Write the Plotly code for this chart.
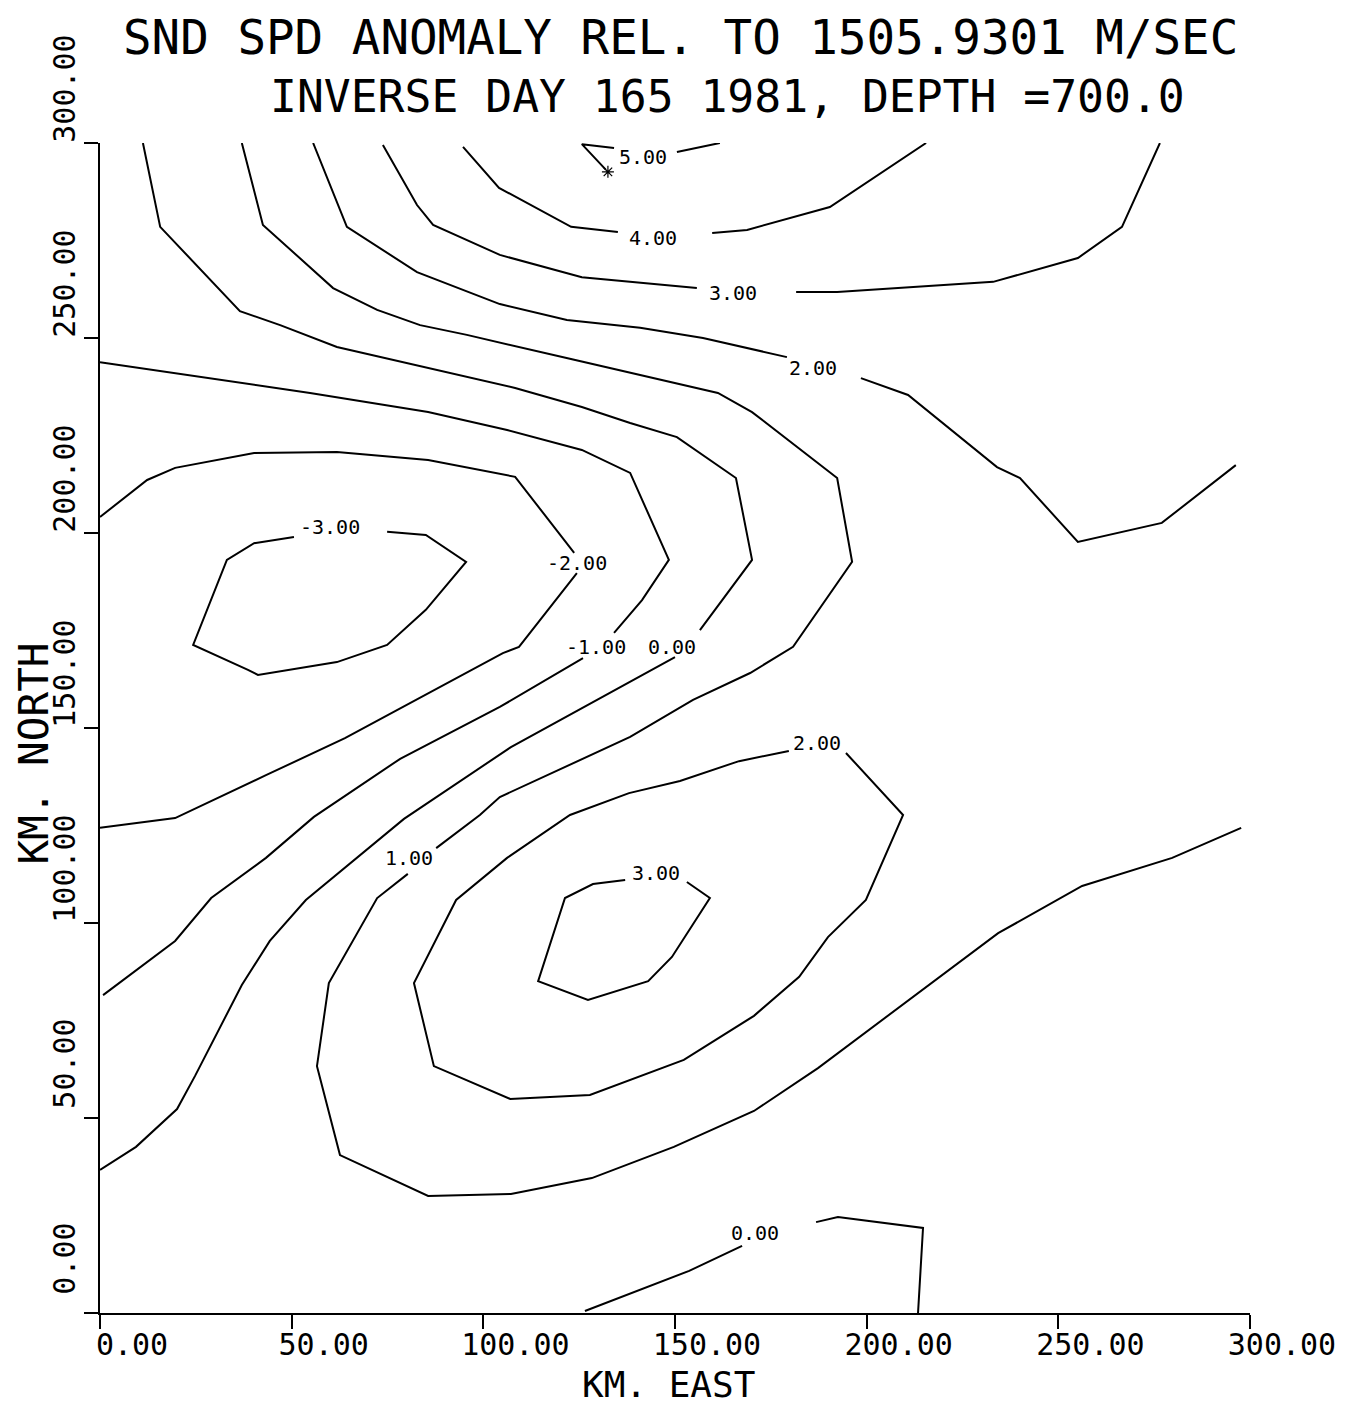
import plotly.graph_objects as go

# ---- axis ticks ----
tick_vals = [0, 50, 100, 150, 200, 250, 300]
tick_text = ["0.00", "50.00", "100.00", "150.00", "200.00", "250.00", "300.00"]

# ---- contour polylines (km east, km north); None = label gap ----
zero_x = [11.2, 15.7, 36.5, 47.0, 61.8, 85.6, 108.3, 125.7, 138.3, 150.5, 165.9, 170.1, 156.5, None,
          150.0, 137.5, 107.2, 79.3, 53.7, 44.3, 37.0, 24.8, 20.1, 9.4, 0.0]
zero_y = [300.0, 278.5, 256.9, 253.3, 247.7, 242.3, 237.2, 232.3, 228.2, 224.6, 214.1, 193.1, 175.1, None,
          168.2, 161.5, 145.1, 126.7, 105.9, 95.4, 84.1, 60.8, 52.3, 42.6, 36.7]

one_x = [37.0, 42.5, 60.8, 72.3, 83.5, 95.7, 123.7, 137.5, 152.6, 161.2, 170.1, 192.3, 196.2, 180.8, 169.6,
         154.7, 138.3, 104.3, 99.1, 87.7, None, 80.3, 72.3, 59.7, 56.6, 62.6, 85.6, 107.2, 128.3, 149.7,
         170.6, 187.3, 214.7, 234.3, 256.2, 279.7, 297.7]
one_y = [300.0, 279.0, 262.8, 257.2, 253.3, 250.8, 244.4, 241.3, 237.9, 235.9, 231.0, 214.1, 192.6, 170.8, 164.1,
         157.2, 147.7, 132.3, 127.7, 119.2, None, 112.6, 106.4, 84.6, 63.3, 40.5, 30.0, 30.5, 34.6, 42.6,
         51.8, 62.8, 83.1, 97.4, 109.5, 116.7, 124.4]

two_upper_x = [55.6, 64.4, 82.7, 104.3, 121.8, 140.9, 157.3, 179.2, None, 198.5, 210.8, 234.0, 240.0, 255.1, 277.0, 296.3]
two_upper_y = [300.0, 278.5, 266.9, 258.7, 254.6, 252.6, 250.0, 245.1, None, 239.7, 235.4, 216.9, 214.1, 197.7, 202.6, 217.4]

three_upper_x = [73.8, 82.7, 86.9, 104.3, 125.7, 138.3, 155.7, None, 181.6, 192.3, 233.0, 255.1, 266.6, 276.5]
three_upper_y = [299.5, 284.1, 279.0, 271.3, 265.6, 264.4, 262.8, None, 261.8, 261.8, 264.4, 270.5, 278.5, 300.0]

four_x = [94.7, 104.1, 122.9, 135.1, None, 159.7, 168.8, 190.4, 215.5]
four_y = [299.0, 288.5, 278.5, 277.2, None, 276.9, 277.7, 283.6, 300.0]

five_x = [134.1, 125.7, 132.0, None, 150.5, 161.7]
five_y = [298.7, 299.7, 293.1, None, 297.7, 300.0]

neg1_x = [0.0, 54.8, 85.6, 106.2, 125.7, 138.3, 148.4, 141.4, 134.1, None,
          126.0, 104.3, 78.3, 55.8, 43.3, 29.0, 19.6, 0.8]
neg1_y = [243.8, 235.9, 231.0, 226.4, 221.3, 215.4, 193.1, 182.8, 174.4, None,
          167.9, 155.4, 142.1, 127.2, 116.7, 106.4, 95.4, 81.5]

neg2_x = [0.0, 12.3, 19.6, 40.2, 61.8, 85.6, 108.3, 123.7, None, 124.4, 109.3, 105.1, 82.4, 63.9, 43.3, 19.6, 0.0]
neg2_y = [204.1, 213.6, 216.7, 220.5, 220.8, 218.7, 214.4, 194.9, None, 189.7, 170.8, 169.2, 157.2, 147.4, 137.9, 126.9, 124.4]

neg3_x = [50.6, 40.2, 33.1, 24.3, 38.6, 41.2, 61.8, 74.9, 85.0, 95.5, 85.0, 74.9]
neg3_y = [199.0, 197.4, 193.1, 171.3, 164.9, 163.6, 166.9, 171.3, 180.3, 192.6, 199.5, 200.3]

two_lower_x = [194.6, 209.5, 199.8, 189.9, 182.4, 170.6, 152.3, 127.8, 107.0, 87.1, 81.9, 92.9, 106.2,
               122.6, 138.0, 151.3, 166.7, 179.7]
two_lower_y = [143.6, 127.7, 105.9, 96.4, 86.2, 76.2, 64.9, 55.9, 54.9, 63.3, 84.6, 105.9, 116.7,
               127.7, 133.3, 136.4, 141.5, 144.1]

three_lower_x = [153.1, 159.1, 149.2, 143.0, 127.3, 114.3, 121.3, 128.6, 137.0]
three_lower_y = [110.5, 106.4, 91.3, 85.1, 80.3, 85.1, 106.4, 110.0, 111.0]

zero_bottom_x = [126.5, 153.7, 167.5, None, 186.8, 192.5, 214.7, 213.4]
zero_bottom_y = [0.5, 10.8, 17.2, None, 23.3, 24.6, 21.8, 0.0]

# maximum marker
star_x = [132.5]
star_y = [292.6]

# contour labels
label_text = ["5.00", "4.00", "3.00", "2.00", "-3.00", "-2.00", "-1.00", "0.00", "2.00", "1.00", "3.00", "0.00"]
label_x = [141.7, 144.3, 165.1, 186.0, 60.0, 124.4, 129.4, 149.2, 187.0, 80.6, 145.0, 170.9]
label_y = [296.4, 275.6, 261.5, 242.3, 201.5, 192.3, 170.8, 170.8, 146.2, 116.7, 112.8, 20.5]

FONT = "DejaVu Sans Mono"

fig = go.Figure()

contours = [
    (zero_x, zero_y), (one_x, one_y), (two_upper_x, two_upper_y), (three_upper_x, three_upper_y),
    (four_x, four_y), (five_x, five_y), (neg1_x, neg1_y), (neg2_x, neg2_y), (neg3_x, neg3_y),
    (two_lower_x, two_lower_y), (three_lower_x, three_lower_y), (zero_bottom_x, zero_bottom_y),
]
for cx, cy in contours:
    fig.add_trace(go.Scatter(x=cx, y=cy, mode="lines", line=dict(color="black", width=2),
                             hoverinfo="skip", showlegend=False, connectgaps=False))

fig.add_trace(go.Scatter(x=star_x, y=star_y, mode="markers",
                         marker=dict(symbol="asterisk-open", size=10, color="black",
                                     line=dict(color="black", width=1.2)),
                         hoverinfo="skip", showlegend=False))

for t, lx, ly in zip(label_text, label_x, label_y):
    fig.add_annotation(x=lx, y=ly, xref="x", yref="y", text=t, showarrow=False,
                       xanchor="center", yanchor="middle",
                       font=dict(family=FONT, size=20, color="black"))

# titles
fig.add_annotation(x=0.505, y=1.090, xref="paper", yref="paper", showarrow=False,
                   xanchor="center", yanchor="middle",
                   text="SND SPD ANOMALY REL. TO 1505.9301 M/SEC",
                   font=dict(family=FONT, size=47.5, color="black"))
fig.add_annotation(x=0.546, y=1.039, xref="paper", yref="paper", showarrow=False,
                   xanchor="center", yanchor="middle",
                   text="INVERSE DAY 165 1981, DEPTH =700.0",
                   font=dict(family=FONT, size=44.7, color="black"))
fig.add_annotation(x=0.494, y=-0.0607, xref="paper", yref="paper", showarrow=False,
                   xanchor="center", yanchor="middle",
                   text="KM. EAST", font=dict(family=FONT, size=36, color="black"))
fig.add_annotation(x=-0.0575, y=0.478, xref="paper", yref="paper", showarrow=False, textangle=-90,
                   xanchor="center", yanchor="middle",
                   text="KM. NORTH", font=dict(family=FONT, size=41, color="black"))

axis_common = dict(
    range=[0, 300], tickmode="array", tickvals=tick_vals, ticktext=tick_text,
    showline=True, linecolor="black", linewidth=2, ticks="outside", ticklen=14,
    tickwidth=2, tickcolor="black", showgrid=False, zeroline=False, automargin=False,
    tickfont=dict(family=FONT, size=30, color="black"), mirror=False, fixedrange=True,
)
fig.update_xaxes(**axis_common, ticklabelshift=32, ticklabelstandoff=-10)
fig.update_yaxes(**axis_common, tickangle=-90, ticklabelshift=-50, ticklabelstandoff=-3)

# page body has an 8px margin: figure is offset by (8, 8)
fig.update_layout(
    width=1356, height=1398, autosize=False,
    margin=dict(l=92, r=114, t=135, b=93),
    paper_bgcolor="white", plot_bgcolor="white",
    showlegend=False,
)

fig.write_html("out.html")
